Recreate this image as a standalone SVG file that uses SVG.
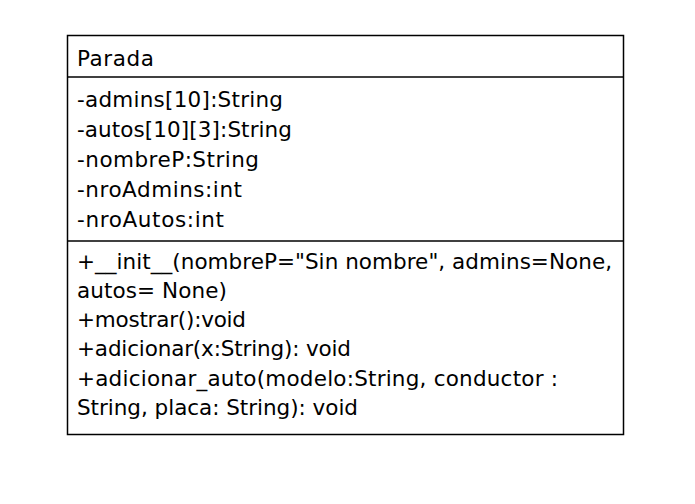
<svg xmlns="http://www.w3.org/2000/svg" width="695" height="504" viewBox="0 0 695 504">
  <style>
    .box { fill: #ffffff; stroke: #000000; stroke-width: 1.5; }
    .sep { stroke: #000000; stroke-width: 1.5; }
    .t { font-family: "DejaVu Sans", "Liberation Sans", sans-serif; font-size: 21.5px; fill: #000000; }
  </style>
  <rect width="695" height="504" fill="#ffffff"/>
  <g id="class-Parada">
    <rect class="box" x="67.5" y="35.5" width="556" height="399"/>
    <line class="sep" x1="67.5" y1="77" x2="623.5" y2="77"/>
    <line class="sep" x1="67.5" y1="241" x2="623.5" y2="241"/>
    <text class="t" x="77" y="65.5" textLength="77" lengthAdjust="spacing">Parada</text>
    <text class="t" x="77" y="106.5" textLength="206" lengthAdjust="spacing">-admins[10]:String</text>
    <text class="t" x="77" y="136.5" textLength="215" lengthAdjust="spacing">-autos[10][3]:String</text>
    <text class="t" x="77" y="166.5" textLength="182" lengthAdjust="spacing">-nombreP:String</text>
    <text class="t" x="77" y="196.5" textLength="165" lengthAdjust="spacing">-nroAdmins:int</text>
    <text class="t" x="77" y="226.5" textLength="147" lengthAdjust="spacing">-nroAutos:int</text>
    <text class="t" x="77" y="268.5" textLength="535" lengthAdjust="spacing">+__init__(nombreP="Sin nombre", admins=None,</text>
    <text class="t" x="77" y="297.8" textLength="150" lengthAdjust="spacing">autos= None)</text>
    <text class="t" x="77" y="327.1" textLength="169" lengthAdjust="spacing">+mostrar():void</text>
    <text class="t" x="77" y="356.4" textLength="274" lengthAdjust="spacing">+adicionar(x:String): void</text>
    <text class="t" x="77" y="385.7" textLength="481" lengthAdjust="spacing">+adicionar_auto(modelo:String, conductor :</text>
    <text class="t" x="77" y="415" textLength="281" lengthAdjust="spacing">String, placa: String): void</text>
  </g>
  <g id="connectors"/>
</svg>
